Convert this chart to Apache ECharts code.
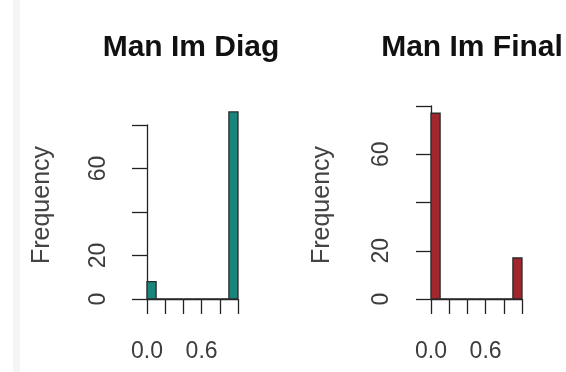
<!DOCTYPE html>
<html>
<head>
<meta charset="utf-8">
<script src="https://cdn.jsdelivr.net/npm/echarts@6/dist/echarts.min.js"></script>
<style>
  html, body { margin: 0; padding: 0; background: #fff; }
  #chart { width: 566px; height: 372px; }
</style>
</head>
<body>
<div id="chart"></div>
<script>
// histogram bins (width 0.1) and counts
var binEdges = [0, 0.1, 0.2, 0.3, 0.4, 0.5, 0.6, 0.7, 0.8, 0.9, 1.0];
var diagCounts = [8, 0, 0, 0, 0, 0, 0, 0, 0, 86];
var finalCounts = [77, 0, 0, 0, 0, 0, 0, 0, 0, 17];
var titles = ['Man Im Diag', 'Man Im Final'];
var yName = 'Frequency';
var colors = ['#1a857a', '#a1262d'];
var yTicksShown = ['0', '20', '60'];
var xTicksShown = ['0.0', '0.6'];

function toBins(counts) {
	var out = [];
	for (var i = 0; i < counts.length; i++) {
		out.push([binEdges[i], binEdges[i + 1], counts[i]]);
	}
	return out;
}

function renderBar(params, api) {
	var p0 = api.coord([api.value(0), api.value(2)]);
	var p1 = api.coord([api.value(1), 0]);
	return {
		type: 'rect',
		shape: {x: p0[0], y: p0[1], width: p1[0] - p0[0], height: p1[1] - p0[1]},
		style: {fill: api.visual('color'), stroke: '#2a2a2a', lineWidth: 1.3}
	};
}

var font = 'Liberation Sans, Arial, sans-serif';
var grids = [
	{left: 147, top: 125, width: 91, height: 174},
	{left: 431, top: 106, width: 91, height: 193}
];

function yNameText(x) {
	return {
		type: 'text', x: x, y: 205, rotation: Math.PI / 2, silent: true,
		style: {text: yName, fontFamily: font, fontSize: 25, fill: '#444', align: 'center', verticalAlign: 'middle'}
	};
}

var option = {
	backgroundColor: '#fff',
	animation: false,
	graphic: [
		{type: 'rect', shape: {x: 13, y: 0, width: 7, height: 372}, style: {fill: '#f3f5f7'}, silent: true},
		yNameText(42),
		yNameText(322)
	],
	title: [
		{text: titles[0], left: 186, top: 28, textAlign: 'center',
			textStyle: {fontFamily: font, fontWeight: 'bold', fontSize: 30, color: '#111'}},
		{text: titles[1], left: 467, top: 28, textAlign: 'center',
			textStyle: {fontFamily: font, fontWeight: 'bold', fontSize: 30, color: '#111'}}
	],
	grid: grids,
	xAxis: [0, 1].map(function (i) {
		return {
			type: 'value', gridIndex: i, min: 0, max: 1, interval: 0.2, offset: 8,
			axisLine: {show: true, lineStyle: {color: '#222', width: 1.3}},
			axisTick: {show: true, length: 15, lineStyle: {color: '#222', width: 1.3}},
			axisLabel: {
				margin: 33, fontFamily: font, fontSize: 23, color: '#3c3c3c',
				formatter: function (v) {
					var s = v.toFixed(1);
					return xTicksShown.indexOf(s) >= 0 ? s : '';
				}
			},
			splitLine: {show: false}
		};
	}),
	yAxis: [0, 1].map(function (i) {
		return {
			type: 'value', gridIndex: i, min: 0, max: 80, interval: 20, offset: i === 0 ? 4 : 5,
			axisLine: {show: true, lineStyle: {color: '#222', width: 1.3}},
			axisTick: {show: true, length: 15, lineStyle: {color: '#222', width: 1.3}},
			axisLabel: {
				rotate: 90, margin: 33, fontFamily: font, fontSize: 23, color: '#3c3c3c',
				formatter: function (v) {
					var s = String(v);
					return yTicksShown.indexOf(s) >= 0 ? s : '';
				}
			},
			splitLine: {show: false}
		};
	}),
	series: [
		{type: 'custom', xAxisIndex: 0, yAxisIndex: 0, renderItem: renderBar, clip: false,
			itemStyle: {color: colors[0]}, encode: {x: [0, 1], y: 2}, data: toBins(diagCounts)},
		{type: 'custom', xAxisIndex: 1, yAxisIndex: 1, renderItem: renderBar, clip: false,
			itemStyle: {color: colors[1]}, encode: {x: [0, 1], y: 2}, data: toBins(finalCounts)}
	]
};

var chart = echarts.init(document.getElementById('chart'));
chart.setOption(option);
</script>
</body>
</html>
